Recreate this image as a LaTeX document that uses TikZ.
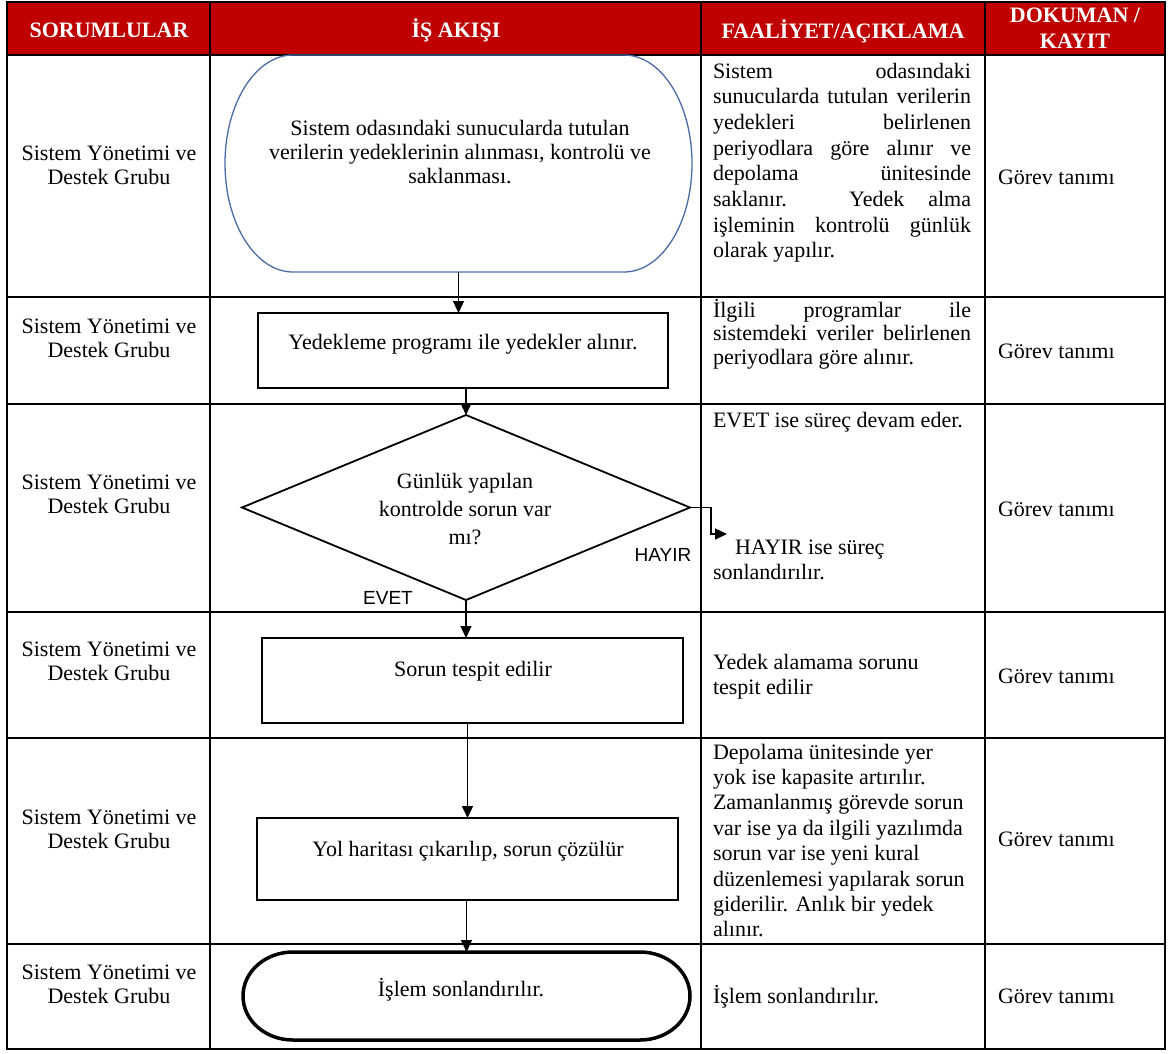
\documentclass[tikz,border=0pt]{standalone}
\usepackage{fontspec}
\setmainfont{Liberation Serif}
\newfontfamily\lsans{Liberation Sans}
\usetikzlibrary{arrows.meta,shapes.geometric}
\definecolor{hdrred}{HTML}{C00000}
\definecolor{capblue}{HTML}{4A6BA5}
% first-line strut: fixes the distance from a node's top to its first baseline
\newcommand\fl{\rule{0pt}{17pt}}
% a justified line of the description column
\newcommand\jl[1]{\makebox[258pt][s]{#1}}
\begin{document}
\begin{tikzpicture}[x=1pt,y=-1pt,
  grid/.style={line width=1.8pt},
  txt/.style={inner sep=0pt,outer sep=0pt,font=\fontsize{22}{#1}\selectfont},
  txt/.default=25.5,
  hd/.style={inner sep=0pt,outer sep=0pt,text=white,font=\fontsize{22}{26}\selectfont\bfseries},
  lbl/.style={inner sep=0pt,outer sep=0pt,font=\lsans\fontsize{19}{22}\selectfont},
  procbox/.style={draw,line width=1.8pt,inner sep=0pt,outer sep=0pt},
  frame/.style={inner sep=0pt,outer sep=0pt},
  arr/.style={line width=1.3pt,-{Triangle[length=12pt,width=11pt]}},
]
\useasboundingbox (0,0) rectangle (1169,1053);

% header band
\fill[hdrred] (7,2) rectangle (1165,55);

% table grid
\draw[grid] (7,2) rectangle (1165,1049);
\foreach \y in {55,297,404,612,738,944} \draw[grid] (7,\y) -- (1165,\y);
\foreach \x in {210,701,985} \draw[grid] (\x,2) -- (\x,1049);

% header titles
\node[hd,anchor=base] (h1) at (109,37) {SORUMLULAR};
\node[hd,anchor=base] (h2) at (456,37) {İŞ AKIŞI};
\node[hd,anchor=base] (h3) at (843,38) {FAALİYET/AÇIKLAMA};
\node[hd,anchor=north,align=center] (h4) at (1075,5) {\fl DOKUMAN /\\KAYIT};

% responsible parties
\foreach \i/\y in {1/143,2/316,3/472,4/639,5/807,6/962}
  \node[txt=24,align=center,anchor=north] (who\i) at (109,\y) {\fl Sistem Yönetimi ve\\Destek Grubu};

% documents
\foreach \i/\y in {1/184,2/358,3/516,4/683,5/846,6/1003}
  \node[txt,anchor=base west] (doc\i) at (998,\y) {Görev tanımı};

% flow shapes
\node[frame,minimum width=467pt,minimum height=217pt] (t1) at (458.5,163.5) {};
\draw[capblue,line width=1.3pt]
  ([xshift=68pt]t1.north west) -- ([xshift=-68pt]t1.north east)
  arc[start angle=90,end angle=-90,x radius=68pt,y radius=108.5pt]
  -- ([xshift=68pt]t1.south west)
  arc[start angle=270,end angle=90,x radius=68pt,y radius=108.5pt] -- cycle;

\node[procbox,minimum width=410pt,minimum height=75pt] (b2) at (463,350.5) {};
\node[draw,diamond,line width=1.8pt,inner sep=0pt,outer sep=0pt,
      minimum width=448pt,minimum height=185pt] (dia) at (466,507.5) {};
\node[procbox,minimum width=421pt,minimum height=85pt] (b4) at (472.5,680.5) {};
\node[procbox,minimum width=421pt,minimum height=82pt] (b5) at (467.5,859) {};

\node[frame,minimum width=447pt,minimum height=88pt] (t2) at (466.5,996) {};
\draw[line width=3.5pt]
  ([xshift=50pt]t2.north west) -- ([xshift=-50pt]t2.north east)
  arc[start angle=90,end angle=-90,x radius=50pt,y radius=44pt]
  -- ([xshift=50pt]t2.south west)
  arc[start angle=270,end angle=90,x radius=50pt,y radius=44pt] -- cycle;

% texts inside the flow shapes
\node[txt=24,align=center,anchor=north] (t1txt) at (460,118)
  {\fl Sistem odasındaki sunucularda tutulan\\verilerin yedeklerinin alınması, kontrolü ve\\saklanması.};
\node[txt,anchor=base] (b2txt) at (463,349) {Yedekleme programı ile yedekler alınır.};
\node[txt=28,align=center,anchor=north] (diatxt) at (465,471)
  {\fl Günlük yapılan\\kontrolde sorun var\\mı?};
\node[txt,anchor=base] (b4txt) at (473,676) {Sorun tespit edilir};
\node[txt,anchor=base] (b5txt) at (468,856) {Yol haritası çıkarılıp, sorun çözülür};
\node[txt,anchor=base] (t2txt) at (461,996) {İşlem sonlandırılır.};

% decision labels
\node[lbl] (no) at (663,555) {HAYIR};
\node[lbl] (yes) at (388,598) {EVET};

% connectors
\draw[arr] (t1.south) -- (t1.south |- b2.north);
\draw[arr] (dia.north |- b2.south) -- (dia.north);
\draw[arr] (dia.south) -- (dia.south |- b4.north);
\draw[arr] (b5.north |- b4.south) -- (b5.north);
\draw[arr] (t2.north |- b5.south) -- (t2.north);
\coordinate (hyk) at (711,534);
\coordinate (hy) at (727,534);
\draw[arr] (dia.east) -| (hyk) -- (hy);

% descriptions
\node[txt=25.7,align=left,anchor=north west] (d1) at (713,61)
  {\fl\jl{Sistem odasındaki}\\\jl{sunucularda tutulan verilerin}\\\jl{yedekleri belirlenen}\\
   \jl{periyodlara göre alınır ve}\\\jl{depolama ünitesinde}\\\jl{saklanır. Yedek alma}\\
   \jl{işleminin kontrolü günlük}\\olarak yapılır.};
\node[txt=23.5,align=left,anchor=north west] (d2) at (713,299)
  {\fl\jl{İlgili programlar ile}\\\jl{sistemdeki veriler belirlenen}\\periyodlara göre alınır.};
\node[txt,anchor=base west] (d3a) at (713,427) {EVET ise süreç devam eder.};
\node[txt=25,align=left,anchor=north west] (d3b) at (713,537)
  {\fl\hspace*{22pt}HAYIR ise süreç\\sonlandırılır.};
\node[txt=25,align=left,anchor=north west] (d4) at (713,652)
  {\fl Yedek alamama sorunu\\tespit edilir};
\node[txt=25.4,align=left,anchor=north west] (d5) at (713,742)
  {\fl Depolama ünitesinde yer\\yok ise kapasite artırılır.\\Zamanlanmış görevde sorun\\
   var ise ya da ilgili yazılımda\\sorun var ise yeni kural\\düzenlemesi yapılarak sorun\\
   giderilir. Anlık bir yedek\\alınır.};
\node[txt,anchor=base west] (d6) at (713,1003) {İşlem sonlandırılır.};
\end{tikzpicture}
\end{document}
